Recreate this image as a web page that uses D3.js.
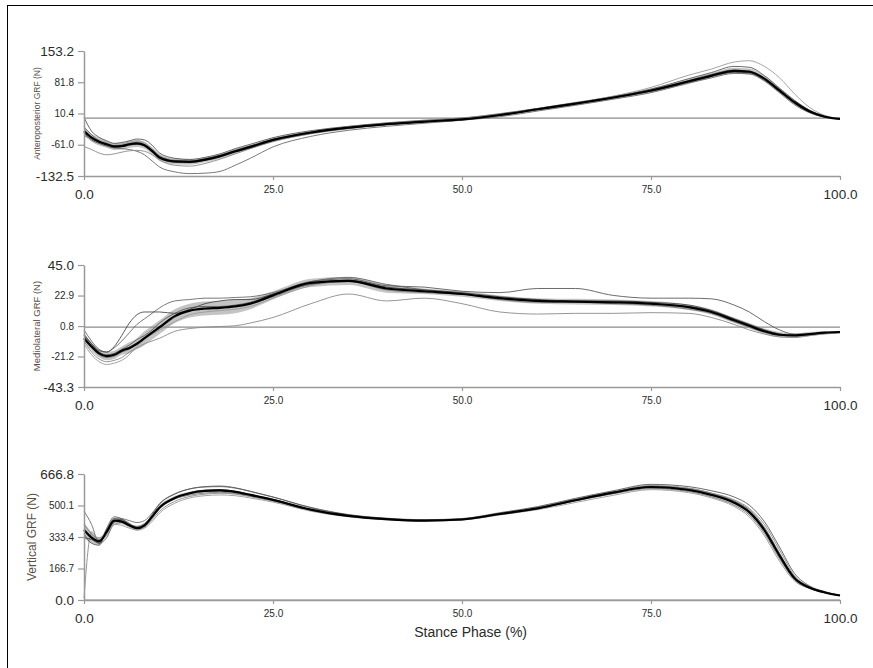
<!DOCTYPE html>
<html>
<head>
<meta charset="utf-8">
<script src="https://cdn.jsdelivr.net/npm/d3@7"></script>
<style>
body { margin: 0; background: #fff; }
svg { display: block; font-family: "Liberation Sans", Arial, sans-serif; }
</style>
</head>
<body>
<div id="chart"></div>
<script>
// stance phase (%) sample points shared by every curve
const stance = [0,1,2,3,4,5,6,7,8,9,10,12,14,16,18,20,22,25,30,35,40,45,50,55,60,65,70,75,80,83,86,88,90,92,94,96,98,100];
const xTicks = [0, 25, 50, 75, 100];

// anteroposterior GRF (N)
const apTicks = [-132.5, -61.0, 10.4, 81.8, 153.2];
const apMean = [-30,-45,-54,-60,-65,-64,-60,-58,-62,-75,-90,-99,-100,-95,-87,-76,-66,-50,-33,-22,-14,-8,-3,7,20,33,47,63,84,97,108,106,90,63,36,15,3,-2];
const apSd = [10,9,9,8,8,8,8,8,8,8,8,7,7,6,6,6,5,5,4,4,3,3,3,3,3,4,4,5,6,6,7,7,7,7,6,4,3,2];
const apTrials = [
  [-20,-38,-52,-62,-68,-70,-72,-76,-84,-98,-112,-123,-127,-126,-122,-108,-92,-66,-42,-28,-19,-12,-5,3,16,29,43,58,80,92,102,101,86,60,34,14,3,-2],
  [-65,-72,-80,-84,-82,-78,-75,-74,-76,-84,-96,-108,-110,-104,-94,-82,-70,-54,-36,-24,-15,-9,-3,6,19,32,46,62,82,95,104,104,88,62,35,15,3,-2],
  [2,-30,-44,-52,-58,-56,-52,-48,-50,-62,-80,-92,-95,-90,-82,-70,-60,-45,-29,-19,-11,-5,0,10,22,35,49,66,90,104,118,116,97,68,40,18,4,-2],
  [-25,-42,-50,-56,-62,-60,-55,-52,-57,-70,-86,-96,-97,-92,-84,-73,-63,-48,-31,-20,-12,-6,-1,9,21,34,50,70,98,112,128,131,118,92,55,24,6,-1],
  [-35,-50,-58,-64,-68,-66,-62,-60,-64,-78,-93,-101,-102,-97,-89,-78,-68,-52,-35,-23,-15,-9,-4,6,19,32,46,61,82,95,105,103,87,60,33,13,2,-2],
  [-40,-48,-56,-62,-64,-62,-58,-55,-60,-72,-88,-97,-98,-93,-85,-74,-64,-49,-33,-22,-14,-8,-2,8,20,33,47,64,86,100,110,104,85,58,30,12,2,-2]
];

// mediolateral GRF (N)
const mlTicks = [-43.3, -21.2, 0.8, 22.9, 45.0];
const mlMean = [-8,-14,-19,-21,-20,-17,-15,-12,-8,-4,0,8,12,13.5,14,15,17,23,32,33.5,28,26,24,21,19,18.5,18,17,14.5,11,5,1,-3,-5.5,-6,-5,-4,-3.5];
const mlSd = [3,3,3,3,3,3,4,4,5,5,5,5,5,5,5,5,4,3,3,3,3,2,2,2,2,2,2,2,2,2,2,2,2,2,1.5,1.5,1,1];
const mlTrials = [
  [-2,-10,-16,-18,-15,-10,-4,2,6,10,14,19,20,21,21,21.5,22,25,33,36,31,27,24,21,19,18,18,17,15,12,6,2,-2,-5,-6,-5,-4,-3.5],
  [-10,-18,-23,-25,-24,-22,-18,-15,-12,-10,-8,-3,-1,0,0.5,1,3,7,17,24,19,21,17,11,9.5,10,10,10.5,10,7,2,-2,-5,-7,-7.5,-6,-5,-4],
  [-5,-12,-18,-20,-19,-16,-13,-9,-6,-2,3,10,14,15,15,16,18,24,33,35,30,29,26,25,28,28,23,21,21,20.5,16,11,4,-2,-5,-5,-4,-3.5],
  [-12,-20,-25,-27,-26,-24,-20,-14,-9,-5,-2,4,9,11,12,13,15,21,30,33,29,26,24,21,19,18,18,16,14,10,4,0,-4,-6,-7,-6,-4.5,-4],
  [-6,-12,-17,-18,-14,-6,3,9,11,11,11,10,13,17,19,20,20,24,31,34,29,27,25,22,20,19,19,18,16,12,6,2,-2,-5,-6,-5,-4,-3.5],
  [-9,-15,-20,-22,-21,-18,-16,-12,-8,-5,-1,7,12,13,14,15,17,22,31,33,27,25,24,20,18,18,17,16,13,10,4,0,-3.5,-6,-6,-5,-4,-3.5]
];

// vertical GRF (N)
const vtTicks = [0.0, 166.7, 333.4, 500.1, 666.8];
const vtMean = [370,330,310,360,420,415,395,380,395,440,490,540,565,577,580,572,556,530,478,445,428,420,426,455,485,528,568,598,582,556,515,465,370,235,115,65,40,24];
const vtSd = [40,30,20,18,15,14,12,12,12,12,12,10,9,8,8,8,7,6,5,5,5,5,5,5,5,6,6,7,7,8,10,12,14,14,10,6,4,3];
const vtTrials = [
  [470,400,300,330,410,430,420,410,420,460,510,562,588,598,600,592,575,545,488,450,430,420,425,452,482,526,568,602,590,565,525,478,385,248,118,66,40,23],
  [10,360,320,340,400,410,390,375,385,425,470,522,548,560,565,560,547,523,474,443,427,421,428,458,490,534,574,606,592,566,530,485,400,265,128,70,42,25],
  [350,300,290,380,440,430,405,385,400,452,508,560,588,600,603,594,575,545,490,452,433,425,431,462,494,538,578,612,600,578,545,502,415,280,140,74,44,26],
  [380,340,330,350,400,395,380,370,380,415,460,512,540,552,556,552,540,518,470,440,424,417,423,450,478,516,554,584,568,540,495,440,340,205,100,60,38,24],
  [330,320,300,370,430,425,400,382,392,438,485,538,568,580,584,575,558,531,477,444,427,420,426,455,486,530,570,600,586,560,520,470,372,238,116,66,40,24],
  [400,350,320,355,415,420,398,390,405,445,488,535,555,566,570,564,550,527,478,446,429,421,426,454,483,524,562,590,574,546,502,450,352,218,106,62,39,24]
];

const trialColors = ["#6a6a6a", "#8a8a8a", "#5a5a5a", "#9a9a9a", "#4a4a4a", "#7a7a7a"];

const svg = d3.select("#chart").append("svg")
    .attr("width", 873)
    .attr("height", 668);

// outer frame
svg.append("rect")
    .attr("x", 7.5).attr("y", 5.5)
    .attr("width", 900).attr("height", 700)
    .attr("fill", "none").attr("stroke", "#000").attr("stroke-width", 1);

const x = d3.scaleLinear().domain([0, 100]).range([84, 840]);

const panels = [
  {mean: apMean, sd: apSd, trials: apTrials, ticks: apTicks, title: "Anteroposterior GRF (N)", titleSize: 8.5, titleX: 37, top: 51, bottom: 176},
  {mean: mlMean, sd: mlSd, trials: mlTrials, ticks: mlTicks, title: "Mediolateral GRF (N)", titleSize: 9.5, titleX: 37, top: 265, bottom: 387},
  {mean: vtMean, sd: vtSd, trials: vtTrials, ticks: vtTicks, title: "Vertical GRF (N)", titleSize: 12, titleX: 32, top: 474, bottom: 600}
];

const fmt = d => d.toFixed(1);

panels.forEach(p => {
  const y = d3.scaleLinear().domain([p.ticks[0], p.ticks[p.ticks.length - 1]]).range([p.bottom, p.top]);
  const g = svg.append("g");

  // +/- band
  const band = d3.area()
      .x((d, i) => x(stance[i]))
      .y0((d, i) => y(p.mean[i] - p.sd[i]))
      .y1((d, i) => y(p.mean[i] + p.sd[i]))
      .curve(d3.curveMonotoneX);
  g.append("path").attr("d", band(p.mean)).attr("fill", "#c4c4c4");

  // zero reference
  g.append("line")
      .attr("x1", x(0)).attr("x2", x(100))
      .attr("y1", y(0)).attr("y2", y(0))
      .attr("stroke", "#8c8c8c").attr("stroke-width", 1.2);

  const line = d3.line()
      .x((d, i) => x(stance[i]))
      .y(d => y(d))
      .curve(d3.curveMonotoneX);

  p.trials.forEach((t, k) => {
    g.append("path").attr("d", line(t))
        .attr("fill", "none").attr("stroke", trialColors[k]).attr("stroke-width", 0.9);
  });
  g.append("path").attr("d", line(p.mean))
      .attr("fill", "none").attr("stroke", "#000").attr("stroke-width", 2.2);

  // y axis
  const ya = g.append("g").attr("transform", `translate(${x(0)},0)`)
      .call(d3.axisLeft(y).tickValues(p.ticks).tickFormat(fmt).tickSize(6).tickSizeOuter(0).tickPadding(4));
  // x axis
  const xa = g.append("g").attr("transform", `translate(0,${p.bottom})`)
      .call(d3.axisBottom(x).tickValues(xTicks).tickFormat(fmt).tickSize(4).tickSizeOuter(0).tickPadding(5));

  [ya, xa].forEach(a => {
    a.select(".domain").attr("stroke", "#999").attr("stroke-width", 1.5);
    a.selectAll(".tick line").attr("stroke", "#999").attr("stroke-width", 1.2);
    a.selectAll(".tick text").attr("fill", "#2b2b2b").attr("font-family", "Liberation Sans, Arial, sans-serif")
        .attr("font-size", (d, i, n) => (i === 0 || i === n.length - 1) ? 13.5 : 10);
  });
  xa.selectAll(".tick text").attr("y", (d, i, n) => (i === 0 || i === n.length - 1) ? 13 : 9.5);

  g.append("text")
      .attr("transform", `translate(${p.titleX},${(p.top + p.bottom) / 2}) rotate(-90)`)
      .attr("text-anchor", "middle")
      .attr("dy", "0.35em")
      .attr("font-size", p.titleSize)
      .attr("fill", "#5a5048")
      .text(p.title);
});

svg.append("text")
    .attr("x", 527).attr("y", 637)
    .attr("text-anchor", "end")
    .attr("font-size", 14)
    .attr("fill", "#2b2b2b")
    .text("Stance Phase (%)");
</script>
</body>
</html>
